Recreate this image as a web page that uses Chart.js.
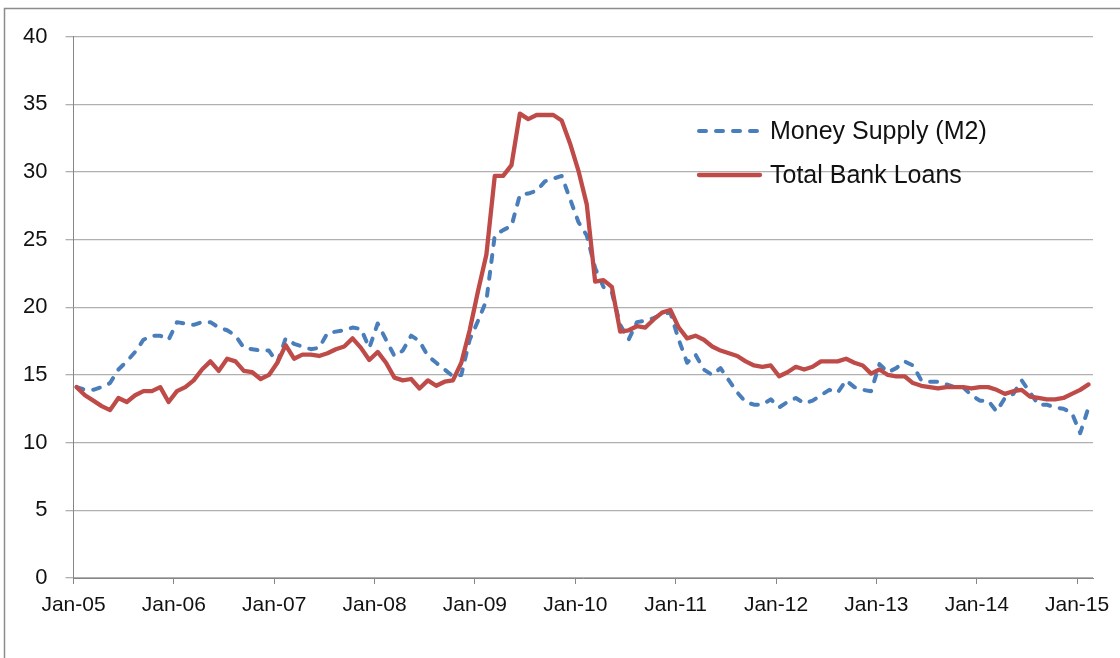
<!DOCTYPE html>
<html><head><meta charset="utf-8">
<script src="https://cdn.jsdelivr.net/npm/chart.js@4.4.1/dist/chart.umd.min.js"></script>
<style>html,body{margin:0;padding:0;background:#fff;}#wrap{width:1120px;height:658px;position:relative;}</style>
</head><body><div id="wrap"><canvas id="c" width="1120" height="658"></canvas></div>
<script>
// Year tick labels (Jan of each year)
const tickLabels = ['Jan-05','Jan-06','Jan-07','Jan-08','Jan-09','Jan-10','Jan-11','Jan-12','Jan-13','Jan-14','Jan-15'];
const yTickValues = [0,5,10,15,20,25,30,35,40];
const seriesNames = ['Money Supply (M2)','Total Bank Loans'];

// Monthly values, Jan-05 .. Feb-15 (122 months)
const moneySupply = [
14.1,13.9,13.9,14.1,14.4,15.4,16.0,16.7,17.6,17.9,17.9,17.6,
18.9,18.8,18.7,18.9,18.9,18.5,18.3,17.9,17.0,16.9,16.8,16.8,
15.9,17.7,17.3,17.1,16.9,17.0,18.1,18.2,18.3,18.5,18.4,17.0,
18.8,17.6,16.4,16.8,17.9,17.5,16.4,15.9,15.4,14.9,15.0,17.6,
19.0,20.5,25.3,25.7,26.0,28.3,28.4,28.6,29.3,29.5,29.7,28.0,
26.3,25.3,22.9,21.5,21.1,18.7,17.6,18.9,19.0,19.2,19.5,19.6,
17.6,15.9,16.5,15.4,15.0,15.5,14.6,13.7,13.0,12.8,12.8,13.2,
12.6,13.0,13.3,12.9,13.1,13.5,13.9,13.7,14.6,14.1,13.9,13.8,
15.8,15.2,15.5,16.0,15.7,14.6,14.5,14.5,14.3,14.1,14.1,13.5,
13.1,13.1,12.3,13.3,13.6,14.6,13.7,12.8,12.8,12.6,12.5,12.2,
10.7,12.6
];
const bankLoans = [
14.1,13.5,13.1,12.7,12.4,13.3,13.0,13.5,13.8,13.8,14.1,13.0,
13.8,14.1,14.6,15.4,16.0,15.3,16.2,16.0,15.3,15.2,14.7,15.0,
15.9,17.2,16.2,16.5,16.5,16.4,16.6,16.9,17.1,17.7,17.0,16.1,
16.7,15.9,14.8,14.6,14.7,14.0,14.6,14.2,14.5,14.6,15.9,18.3,
21.2,23.9,29.7,29.7,30.5,34.3,33.9,34.2,34.2,34.2,33.8,32.1,
30.1,27.6,21.9,22.0,21.5,18.2,18.3,18.6,18.5,19.1,19.6,19.8,
18.5,17.7,17.9,17.6,17.1,16.8,16.6,16.4,16.0,15.7,15.6,15.7,
14.9,15.2,15.6,15.4,15.6,16.0,16.0,16.0,16.2,15.9,15.7,15.1,
15.4,15.0,14.9,14.9,14.4,14.2,14.1,14.0,14.1,14.1,14.1,14.0,
14.1,14.1,13.9,13.6,13.8,13.9,13.4,13.3,13.2,13.2,13.3,13.6,
13.9,14.3
];

const BLUE = '#4A7EBB', RED = '#BE4B48';
const X_OFFSET = 0.37; // data points sit slightly right of the month tick
const toXY = arr => arr.map((v, i) => ({x: i + X_OFFSET, y: v}));
const FONT = 'Liberation Sans';

const framePlugin = {
  id: 'frame',
  beforeDraw(chart) {
    const ctx = chart.ctx;
    ctx.save();
    ctx.fillStyle = '#fff';
    ctx.fillRect(0, 0, chart.width, chart.height);
    ctx.strokeStyle = '#8c8c8c';
    ctx.lineWidth = 1.5;
    ctx.beginPath();
    ctx.moveTo(4.5, chart.height);
    ctx.lineTo(4.5, 8.5);
    ctx.lineTo(chart.width, 8.5);
    ctx.stroke();
    ctx.restore();
  }
};

const legendPlugin = {
  id: 'customLegend',
  afterDraw(chart) {
    const ctx = chart.ctx;
    const rows = [131, 175];
    ctx.save();
    chart.data.datasets.forEach((ds, k) => {
      const y = rows[k];
      ctx.beginPath();
      ctx.lineWidth = ds.borderWidth;
      ctx.lineCap = ds.borderCapStyle || 'butt';
      ctx.setLineDash(ds.borderDash || []);
      ctx.strokeStyle = ds.borderColor;
      ctx.moveTo(699, y);
      ctx.lineTo(760, y);
      ctx.stroke();
      ctx.setLineDash([]);
      ctx.fillStyle = '#111';
      ctx.font = '25px "' + FONT + '"';
      ctx.textBaseline = 'middle';
      ctx.textAlign = 'left';
      ctx.fillText(ds.label, 770, y + 1);
    });
    ctx.restore();
  }
};

new Chart(document.getElementById('c'), {
  type: 'line',
  data: {
    datasets: [
      { label: seriesNames[0], data: toXY(moneySupply), borderColor: BLUE, backgroundColor: BLUE,
        borderWidth: 4, borderDash: [7, 10], borderCapStyle: 'round', borderJoinStyle: 'round',
        pointRadius: 0, tension: 0, order: 1 },
      { label: seriesNames[1], data: toXY(bankLoans), borderColor: RED, backgroundColor: RED,
        borderWidth: 4.3, borderCapStyle: 'round', borderJoinStyle: 'round',
        pointRadius: 0, tension: 0, order: 0 }
    ]
  },
  options: {
    responsive: false, animation: false, devicePixelRatio: 1,
    layout: { padding: { left: 0, top: 36.5, right: 27, bottom: 0 } },
    plugins: { legend: { display: false }, tooltip: { enabled: false } },
    scales: {
      x: {
        type: 'linear', min: 0, max: 121.9,
        afterBuildTicks: s => { s.ticks = tickLabels.map((_, k) => ({ value: k * 12 })); },
        afterFit: s => { s.height = 658 - 578; },
        ticks: { autoSkip: false, maxRotation: 0, padding: 9, color: '#111',
          font: { family: FONT, size: 21 },
          callback: (v, i) => tickLabels[i] },
        grid: { drawOnChartArea: false, drawTicks: true, tickLength: 6, tickColor: '#868686' },
        border: { color: '#868686', width: 1 }
      },
      y: {
        min: 0, max: 40,
        afterBuildTicks: s => { s.ticks = yTickValues.map(v => ({ value: v })); },
        afterFit: s => { s.width = 73.5; },
        ticks: { padding: 18, color: '#111', font: { family: FONT, size: 22 } },
        grid: { color: '#b0b0b0', lineWidth: 1.3, tickLength: 8, tickColor: '#b0b0b0' },
        border: { color: '#868686', width: 1 }
      }
    }
  },
  plugins: [framePlugin, legendPlugin]
});
</script></body></html>
